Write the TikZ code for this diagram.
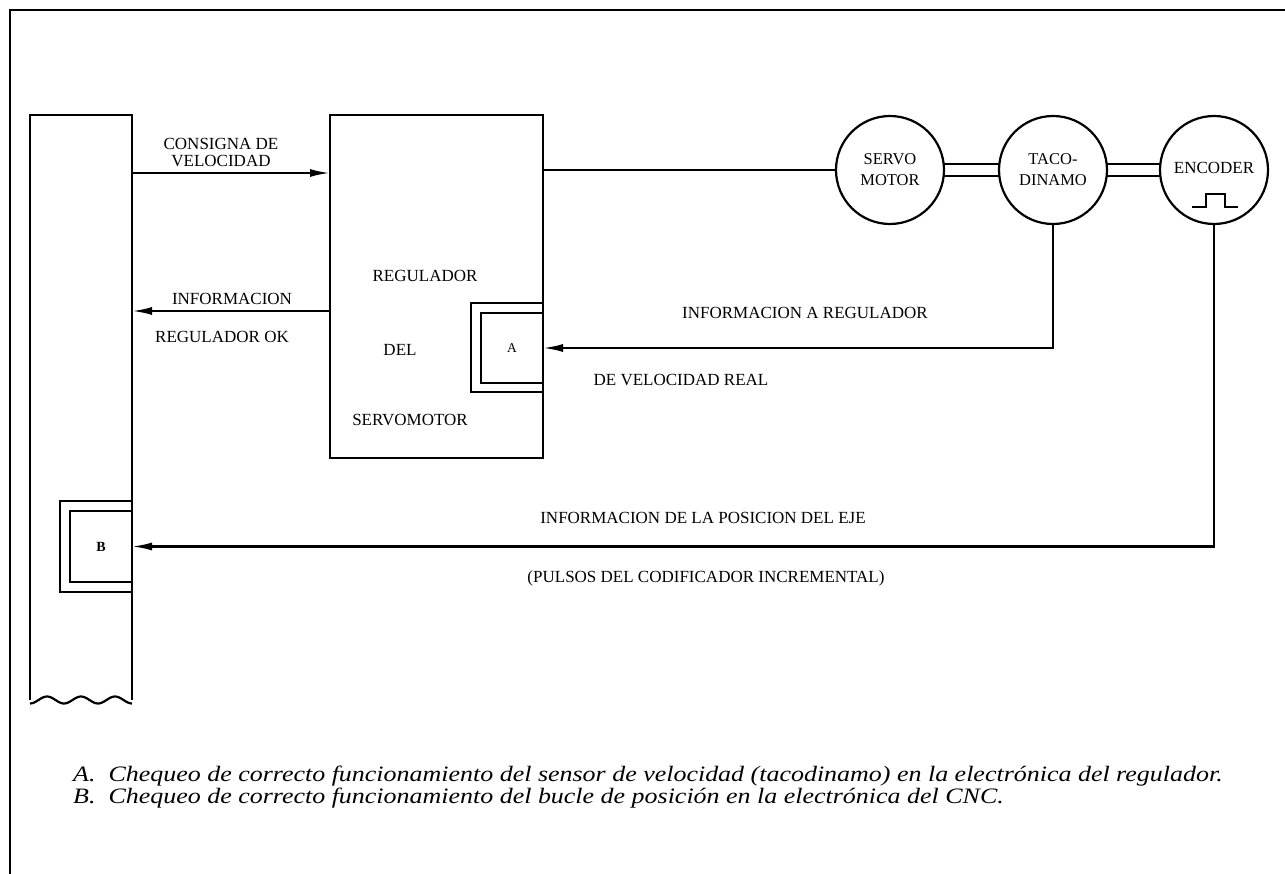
\documentclass[tikz,border=0pt]{standalone}
\usepackage{fontspec}
\setmainfont{Liberation Serif}
\newfontfamily\capfont[FakeStretch=1.18]{Liberation Serif}
\usetikzlibrary{arrows.meta}
\begin{document}
\begin{tikzpicture}[x=1pt,y=-1pt,
  wire/.style={line width=2.2pt},
  frameline/.style={line width=1.6pt},
  arr/.style={wire,-{Latex[length=20pt,width=8pt]}},
  lbl/.style={font=\fontsize{17}{15}\selectfont, inner sep=0pt, align=center},
  small/.style={font=\fontsize{13.5}{13}\selectfont, inner sep=0pt},
  captiontext/.style={font=\capfont\fontsize{22}{20}\selectfont\itshape, inner sep=0pt, align=left},
  blank/.style={inner sep=0pt, outer sep=0pt},
  box/.style={draw, wire, inner sep=0pt, outer sep=0pt},
  motor/.style={circle, draw, wire, inner sep=0pt, outer sep=0pt, minimum size=108pt,
    font=\fontsize{16.5}{21}\selectfont, align=center}]
\useasboundingbox (0,0) rectangle (1285,874);
% frame
\draw[frameline] (10,874) -- (10,10) -- (1285,10);
% CNC column
\node[blank, anchor=north west, minimum width=102pt, minimum height=585pt] (cnc) at (30,115) {};
\draw[wire] (cnc.south west) -- (cnc.north west) -- (cnc.north east) -- (cnc.south east);
\draw[wire, shift={(cnc.south west)}] plot[domain=0:102, samples=60, smooth] (\x, {3.5*cos(10.588*\x)});
% B box
\node[blank, anchor=north west, minimum width=72pt, minimum height=91pt] (bout) at (60,501) {};
\draw[wire] (bout.north east) -- (bout.north west) -- (bout.south west) -- (bout.south east);
\node[box, anchor=north west, minimum width=62pt, minimum height=71pt] (bin) at (70,511) {};
\node[small, font=\fontsize{14}{14}\selectfont\bfseries] at (bin.center) {B};
% regulator
\node[box, anchor=north west, minimum width=213pt, minimum height=343pt] (reg) at (330,115) {};
\node[lbl] (r1) at (425,276) {REGULADOR};
\node[lbl] (r2) at (400,350) {DEL};
\node[lbl] (r3) at (410,420) {SERVOMOTOR};
% A box
\node[blank, anchor=north west, minimum width=72pt, minimum height=89pt] (aout) at (471,303) {};
\draw[wire] (aout.north east) -- (aout.north west) -- (aout.south west) -- (aout.south east);
\node[box, anchor=north west, minimum width=62pt, minimum height=70pt] (ain) at (481,313) {};
\node[small] at (ain.center) {A};
% motors
\node[motor] (servo) at (890,170) {SERVO\\MOTOR};
\node[motor] (taco) at (1053,170) {TACO-\\DINAMO};
\node[motor] (enc) at (1214,170) {};
\node[lbl] (enct) at (1214,168) {ENCODER};
\draw[line width=2.8pt] ([xshift=-22pt,yshift=-37pt]enc.center) -- ++(14,0) -- ++(0,-13) -- ++(19,0) -- ++(0,13) -- ++(13,0);
% shafts
\draw[wire] (servo.6) -- (taco.174);
\draw[wire] (servo.-6) -- (taco.-174);
\draw[wire] (taco.6) -- (enc.174);
\draw[wire] (taco.-6) -- (enc.-174);
% connectors
\draw[arr] ([yshift=-58pt]cnc.north east) -- ([yshift=-58pt]reg.north west);
\node[lbl, anchor=base] (t1a) at (221,150) {CONSIGNA DE};
\node[lbl, anchor=base] (t1b) at (221,167) {VELOCIDAD};
\draw[arr] ([yshift=-196pt]reg.north west) -- ([yshift=-196pt]cnc.north east);
\node[lbl] (t2) at (232,299) {INFORMACION};
\node[lbl] (t3) at (222,337) {REGULADOR OK};
\draw[wire] (servo.west -| reg.east) -- (servo.west);
\draw[arr] (taco.south) |- (ain.east);
\node[lbl] (t4) at (805,313) {INFORMACION A REGULADOR};
\node[lbl] (t5) at (681,380) {DE VELOCIDAD REAL};
\draw[arr] (enc.south) |- (bin.east);
\node[lbl] (t6) at (703,518) {INFORMACION DE LA POSICION DEL EJE};
\node[lbl] (t7) at (706,578) {(PULSOS DEL CODIFICADOR INCREMENTAL)};
% caption
\node[captiontext, anchor=base west] (c1) at (73,781) {A.\ \ Chequeo de correcto funcionamiento del sensor de velocidad (tacodinamo) en la electrónica del regulador.};
\node[captiontext, anchor=base west] (c2) at (73,803) {B.\ \ Chequeo de correcto funcionamiento del bucle de posición en la electrónica del CNC.};
\end{tikzpicture}
\end{document}
